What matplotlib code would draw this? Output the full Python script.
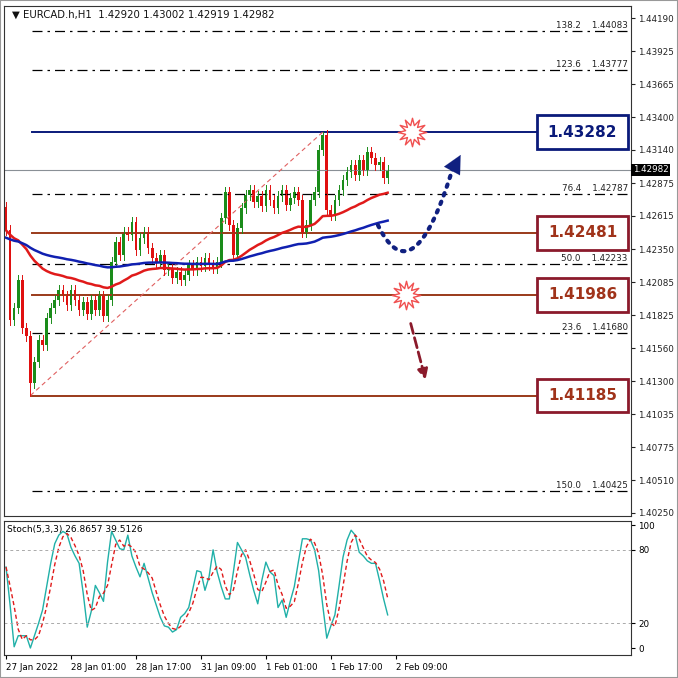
import numpy as np
import matplotlib
matplotlib.use("Agg")
import matplotlib.pyplot as plt
from matplotlib.patches import Rectangle, FancyArrowPatch

closes = [1.42502,1.41785,1.41881,1.42104,1.41722,1.41658,1.41284,1.41451,1.41626,1.41586,
          1.41801,1.41881,1.41945,1.42024,1.41977,1.41905,1.42024,1.41945,1.41865,1.41929,
          1.41833,1.41945,1.41865,1.41977,1.41817,1.41945,1.42247,1.42407,1.42303,1.42486,
          1.42462,1.42566,1.42343,1.42438,1.42486,1.42359,1.42279,1.42247,1.42303,1.42184,
          1.42199,1.42120,1.42168,1.42104,1.42144,1.42223,1.42184,1.42247,1.42215,1.42279,
          1.42223,1.42199,1.42247,1.42598,1.42805,1.42542,1.42303,1.42518,1.42677,1.42781,
          1.42821,1.42725,1.42773,1.42693,1.42821,1.42741,1.42677,1.42773,1.42821,1.42701,
          1.42757,1.42805,1.42741,1.42486,1.42542,1.42741,1.42805,1.43139,1.43258,1.42661,
          1.42622,1.42741,1.42821,1.42900,1.42964,1.43020,1.42940,1.43059,1.42980,1.43123,
          1.43075,1.43020,1.43043,1.42916,1.42982]
first_open = 1.42685
wick = 0.0004
swing_low = (6, 1.41185)
swing_high = (78, 1.43282)

stoch_k = [66,35,1,10,10,10,0,10,20,31,50,69,85,92,95,93,82,75,69,45,17,30,51,45,38,70,95,88,81,80,
           92,75,66,58,69,57,45,35,25,18,17,13,15,25,28,33,48,63,62,47,58,80,62,50,40,40,62,86,80,74,
           60,47,36,55,70,62,59,33,39,25,38,50,70,89,89,88,80,63,35,8,18,27,50,74,88,96,92,78,75,71,
           69,69,55,40,27]

fib_levels = [(138.2,1.44083),(123.6,1.43777),(76.4,1.42787),(50.0,1.42233),(23.6,1.41680),(150.0,1.40425)]
key_levels = [1.43282,1.42481,1.41986,1.41185]
current = 1.42982
yticks = [1.44190,1.43925,1.43665,1.43400,1.43140,1.42875,1.42615,1.42350,1.42085,1.41825,
          1.41560,1.41300,1.41035,1.40775,1.40510,1.40250]
date_ticks = [0,16,32,48,64,80,96]
date_labels = ['27 Jan 2022','28 Jan 01:00','28 Jan 17:00','31 Jan 09:00','1 Feb 01:00','1 Feb 17:00','2 Feb 09:00']

n = len(closes)
opens = [first_open] + closes[:-1]
highs = [max(o, c) + wick for o, c in zip(opens, closes)]
lows = [min(o, c) - wick for o, c in zip(opens, closes)]
lows[swing_low[0]] = swing_low[1]
highs[swing_high[0]] = swing_high[1]

def ema(vals, period, seed):
    a = 2/(period+1); out=[]; e=seed
    for v in vals:
        e = e + a*(v-e); out.append(e)
    return out
ema_fast = ema(closes, 40, 1.4250)
ema_slow = ema(closes, 100, 1.4244)
stoch_d = [np.mean(stoch_k[max(0,i-2):i+1]) for i in range(n)]

W = 678
fig = plt.figure(figsize=(6.78,6.78), dpi=100)
fig.patch.set_facecolor('white')
def rect(l,t,r,b):
    return [l/W, 1-b/W, (r-l)/W, (b-t)/W]
ax = fig.add_axes(rect(4,6,631,516))
ax2 = fig.add_axes(rect(4,521,631,655))
ppx = 4.06
xmax = (631-4)/ppx - 0.5
for a in (ax, ax2):
    a.set_xlim(-0.5, xmax)
    for s in a.spines.values():
        s.set_color('#333333'); s.set_linewidth(0.8)
ax.set_ylim(1.40226, 1.44286)

fibx0 = swing_low[0] + 0.5
for lab, v in fib_levels:
    ax.plot([fibx0, xmax], [v, v], color='black', lw=0.9, ls=(0,(8,4,2,4)))
    ax.text(xmax-0.8, v+0.00008, f"{lab:.1f}    {v:.5f}", ha='right', va='bottom', fontsize=6.3, color='#222222')
box_left = (537-4)/ppx - 0.5
ax.plot([fibx0, box_left], [key_levels[0]]*2, color='#0a1a7a', lw=1.4)
for v in key_levels[1:]:
    ax.plot([fibx0, box_left], [v, v], color='#9a3a1a', lw=1.4)
ax.axhline(current, color='#8a9096', lw=0.8)
ax.plot([swing_low[0], swing_high[0]], [swing_low[1], swing_high[1]], color='#e06060', lw=0.8, ls=(0,(4,3)))

for i in range(n):
    o, c = opens[i], closes[i]
    col = '#1a8c1a' if c >= o else '#e01010'
    ax.plot([i, i], [lows[i], highs[i]], color=col, lw=0.7)
    ax.add_patch(Rectangle((i-0.33, min(o,c)), 0.66, max(abs(c-o), 0.00004), color=col, lw=0))
ax.plot(range(n), ema_fast, color='#e01a1a', lw=1.8)
ax.plot(range(n), ema_slow, color='#1020b0', lw=1.8)

for v, ec, tc in [(1.43282,'#0a1a7a','#0a1a7a'),(1.42481,'#8b1a2b','#a0331a'),
                  (1.41986,'#8b1a2b','#a0331a'),(1.41185,'#8b1a2b','#a0331a')]:
    h = 0.00135
    x0 = box_left; x1 = (628-4)/ppx - 0.5
    ax.add_patch(Rectangle((x0, v-h), x1-x0, 2*h, facecolor='white', edgecolor=ec, lw=2, zorder=5))
    ax.text((x0+x1)/2, v, f"{v:.5f}", ha='center', va='center', fontsize=11, fontweight='bold', color=tc, zorder=6)

for bx, v in [(100, 1.43282), (98.5, 1.41986)]:
    ax.scatter([bx], [v], marker=(12,1,0), s=420, facecolor='white', edgecolor='#f05050', lw=1, zorder=6)

p0 = np.array([91.6, 1.42542]); p1 = np.array([100.5, 1.4195]); p2 = np.array([110.5, 1.43045])
t = np.linspace(0,1,60)[:,None]
bz = (1-t)**2*p0 + 2*(1-t)*t*p1 + t**2*p2
ax.plot(bz[:,0], bz[:,1], color='#102080', lw=3, ls=(0,(0.6,1.6)), dash_capstyle='round')
ax.annotate('', xy=(112.3, 1.43120), xytext=(110.3, 1.43000),
            arrowprops=dict(arrowstyle='-|>,head_length=1.3,head_width=0.65', color='#102080', lw=0.1))
ax.annotate('', xy=(103.5, 1.41290), xytext=(99.5, 1.41780),
            arrowprops=dict(arrowstyle='-|>,head_length=0.6,head_width=0.3', color='#8b1a2b', lw=2, ls='--'))

ax.text(0.012, 0.992, "\u25BC EURCAD.h,H1  1.42920 1.43002 1.42919 1.42982", transform=ax.transAxes,
        ha='left', va='top', fontsize=7.3, color='#111111')

ax.yaxis.tick_right()
ax.set_yticks(yticks)
ax.set_yticklabels([f"{v:.5f}" for v in yticks], fontsize=6.3)
ax.tick_params(axis='y', length=3, pad=2, colors='#222222')
ax.set_xticks([])
ax.text(1.003, (current-1.40226)/(1.44286-1.40226), f"{current:.5f}", transform=ax.transAxes, ha='left', va='center',
        fontsize=6.3, color='white', bbox=dict(facecolor='black', edgecolor='none', pad=1))

ax2.set_ylim(-5.7, 103.5)
ax2.plot(range(n), stoch_k, color='#20b0a8', lw=1)
ax2.plot(range(n), stoch_d, color='#e01a1a', lw=1, ls=(0,(3,2)))
for lv in (20, 80):
    ax2.axhline(lv, color='#aaaaaa', lw=0.7, ls=(0,(3,3)))
ax2.yaxis.tick_right()
ax2.set_yticks([0,20,80,100])
ax2.set_yticklabels(['0','20','80','100'], fontsize=6.3)
ax2.tick_params(axis='y', length=3, pad=2)
ax2.set_xticks(date_ticks)
ax2.set_xticklabels(date_labels, fontsize=6.3, ha='left')
ax2.tick_params(axis='x', length=3, pad=3)
ax2.text(0.005, 0.97, "Stoch(5,3,3) 26.8657 39.5126", transform=ax2.transAxes, ha='left', va='top', fontsize=6.5)

fig.add_artist(Rectangle((0,0),1,1,transform=fig.transFigure,fill=False,edgecolor='#999999',lw=1.5))
fig.savefig('out.png', dpi=100)
